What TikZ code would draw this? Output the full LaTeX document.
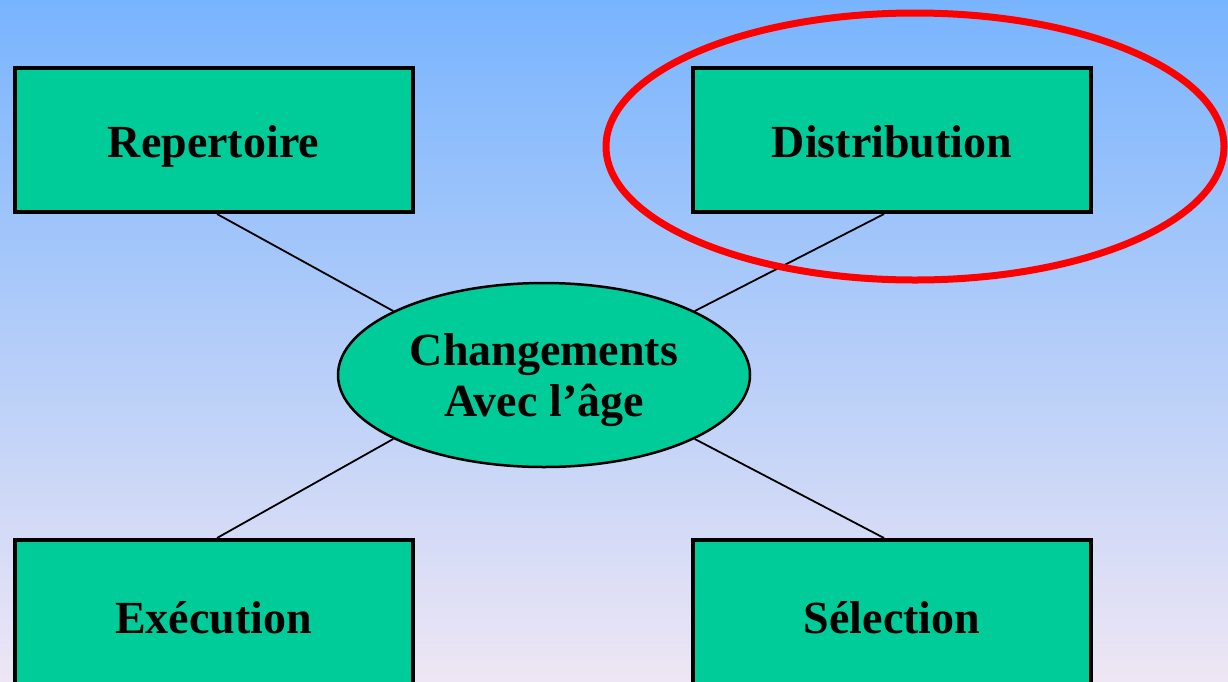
\documentclass[tikz,border=0pt]{standalone}
\usepackage{fontspec}
\setmainfont{Liberation Serif}
\usetikzlibrary{shapes.geometric}
\definecolor{skytop}{HTML}{78B4FE}
\definecolor{skybottom}{HTML}{EEE6F4}
\definecolor{teal}{HTML}{00CC99}
\tikzset{
  topic/.style={draw=black, line width=4pt, fill=teal, minimum width=398pt,
    minimum height=144pt, inner sep=0pt, text height=34pt, text depth=0pt,
    font=\fontsize{46}{50}\selectfont\bfseries},
  hub/.style={ellipse, draw=black, line width=2.5pt, fill=teal, minimum width=412pt,
    minimum height=184pt, inner sep=0pt,
    font=\fontsize{46}{51}\selectfont\bfseries},
  link/.style={draw=black, line width=1.8pt},
  highlight/.style={draw=red, line width=7pt}
}
\begin{document}
\begin{tikzpicture}[x=1pt,y=-1pt]
  \useasboundingbox (0,0) rectangle (1228,681);
  \clip (0,0) rectangle (1228,681);
  % sky gradient background
  \shade[top color=skytop, bottom color=skybottom] (0,0) rectangle (1228,681);

  % central topic (taller first-row strut lowers the two lines a little)
  \node[hub] (chg) at (544,375)
    {\begin{tabular}{@{}c@{}}\rule{0pt}{47.5pt}Changements\\Avec l’âge\end{tabular}};

  % surrounding topics (lower row runs past the bottom edge)
  \node[topic] (rep)  at (213.5,140) {Repertoire};
  \node[topic] (dist) at (892,140)   {Distribution};
  \node[topic, minimum height=152pt] (exe) at (213.5,616) {Exécution};
  \node[topic, minimum height=152pt] (sel) at (892,616)   {Sélection};

  % connectors
  \draw[link] ([xshift=3.5pt]rep.south) -- (chg.157);
  \draw[link] ([xshift=-8pt]dist.south) -- (chg.23);
  \draw[link] ([xshift=3.5pt]exe.north) -- (chg.203);
  \draw[link] ([xshift=-8pt]sel.north) -- (chg.337);

  % emphasis ring around Distribution
  \draw[highlight] (915,146.5) ellipse [x radius=309, y radius=133.5];
\end{tikzpicture}
\end{document}
